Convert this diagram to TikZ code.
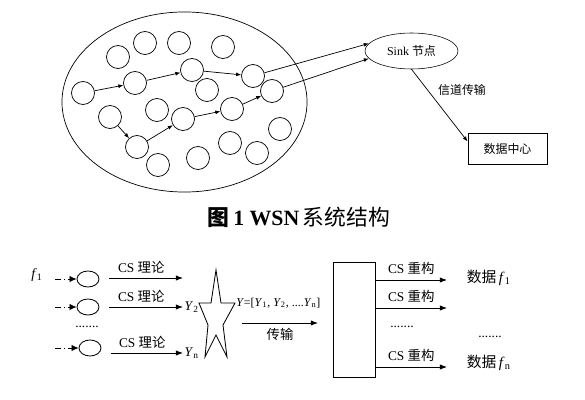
\documentclass[tikz,border=0pt]{standalone}
\usepackage{fontspec}
\setmainfont{Liberation Serif}
\newfontfamily\cjk{Noto Sans CJK SC}
\usetikzlibrary{arrows.meta,shapes.geometric}
\newcommand{\tv}[2]{{\rmfamily\textit{#1}\textsubscript{#2}}}
\tikzset{
  mote/.style={draw,circle,minimum size=0.575cm,inner sep=0pt,line width=0.5pt},
  probe/.style={draw,ellipse,minimum width=0.55cm,minimum height=0.4cm,inner sep=0pt,line width=0.6pt},
  hop/.style={-{Latex[length=3.6pt,width=2.8pt]},line width=0.5pt},
  feed/.style={-{Latex[length=5pt,width=3.8pt]},line width=0.6pt},
  lead/.style={-{Latex[length=5pt,width=4.6pt]},line width=0.6pt,
               dash pattern=on 4.2pt off 2.1pt on 1pt off 2.1pt},
  tag/.style={font=\fontsize{9.5}{11}\selectfont},
  small/.style={font=\fontsize{8.5}{10}\selectfont}
}
% one sensing row: name, y of mote, y of arrow, x of mote
\newcommand{\csrow}[4]{%
  \coordinate (s#1) at (55,#2);
  \node[probe] (c#1) at (#4,#2) {};
  \draw[lead] (s#1) -- (c#1);
  \coordinate (e#1) at (183,#3);
  \draw[feed,shorten <=0.25cm] (c#1.east |- e#1) -- (e#1)
        node[midway,above,tag] (cs#1) {CS {\cjk 理论}};
}
\begin{document}
\begin{tikzpicture}[x=0.025cm,y=-0.025cm]
  \useasboundingbox (0,0) rectangle (585,400);
  % sensor field
  \node[draw,ellipse,minimum width=6.125cm,minimum height=4.5cm,line width=0.5pt] (field) at (184.5,102) {};
  \foreach \x/\y [count=\i] in {118/57,145/43,179/43,223/47,207/90,157/110,
                                158/165,198/158,230/143,257/153,280/129}
    \node[mote] (m\i) at (\x,\y) {};
  \node[mote] (p1) at (83,93) {};
  \node[mote] (p2) at (135,83) {};
  \node[mote] (p3) at (192,70) {};
  \node[mote] (p4) at (253,76) {};
  \node[mote] (q1) at (110,117) {};
  \node[mote] (q2) at (137,147) {};
  \node[mote] (q3) at (183,119) {};
  \node[mote] (q4) at (232,109) {};
  \node[mote] (q5) at (272,91) {};
  \draw[hop] (p1) -- (p2);
  \draw[hop] (p2) -- (p3);
  \draw[hop] (p3) -- (p4);
  \draw[hop] (q1) -- (q2);
  \draw[hop] (q2) -- (q3);
  \draw[hop] (q3) -- (q4);
  \draw[hop] (q4) -- (q5);
  % sink and data centre
  \node[draw,ellipse,minimum width=2.325cm,minimum height=0.9cm,inner sep=0pt,small] (sink) at (411.5,51) {Sink {\cjk 节点}};
  \node[draw,minimum width=1.975cm,minimum height=0.775cm,small,line width=0.6pt] (dc) at (507.5,148.5) {\cjk 数据中心};
  \draw[hop] (p4) -- (sink.170);
  \draw[hop] (q5) -- (sink.190);
  \draw[hop] (sink.south) -- (dc.170);
  \node[small] (chan) at (462,90) {\cjk 信道传输};
  % caption
  \node[font=\fontsize{15.5}{18}\selectfont] (cap) at (299,217)
        {{\cjk\bfseries 图}\,\textbf{1~WSN}\,{\cjk 系统结构}};
  % compressed sensing chain
  \node[font=\fontsize{10}{12}\selectfont] (f1) at (37,275) {\tv{f}{1}};
  \csrow{1}{279}{278}{88}
  \csrow{2}{307}{307}{88}
  \csrow{3}{348}{353}{90}
  \node[tag] (dotl) at (87,327) {.......};
  \node[anchor=west,inner sep=1pt,tag] (y2) at (e2) {\tv{Y}{2}};
  \node[anchor=west,inner sep=1pt,tag] (yn) at (e3) {\tv{Y}{n}};
  \draw[line width=0.6pt] (216,270) -- (211,303) -- (199,303) -- (208,325) -- (205,357)
        -- (216,335) -- (227,357) -- (223,325) -- (235,303) -- (221,303) -- cycle;
  \node[anchor=west,inner sep=0pt,font=\fontsize{8.5}{10}\selectfont] (vec) at (236,303)
        {\textit{Y}=[\tv{Y}{1}, \tv{Y}{2}, ....\tv{Y}{n}]};
  \coordinate (t0) at (242,323);
  \coordinate (t1) at (318,323);
  \draw[feed] (t0) -- (t1) node[midway,below,tag] (tx) {\cjk 传输};
  \node[draw,minimum width=1.05cm,minimum height=2.875cm,line width=0.6pt] (rec) at (354,319.5) {};
  \coordinate (r1) at (447,280);
  \coordinate (r2) at (447,308);
  \coordinate (r3) at (447,367);
  \draw[feed] (rec.east |- r1) -- (r1) node[midway,above,tag] (cr1) {CS {\cjk 重构}};
  \draw[feed] (rec.east |- r2) -- (r2) node[midway,above,tag] (cr2) {CS {\cjk 重构}};
  \draw[feed] (rec.east |- r3) -- (r3) node[midway,above,tag] (cr3) {CS {\cjk 重构}};
  \node[tag] (dotm) at (402,327) {.......};
  \node[anchor=west,font=\fontsize{10.5}{12}\selectfont] (d1) at (462,278) {{\cjk 数据}\,\tv{f}{1}};
  \node[tag] (dotr) at (490,337) {.......};
  \node[anchor=west,font=\fontsize{10.5}{12}\selectfont] (dn) at (462,363) {{\cjk 数据}\,\tv{f}{n}};
\end{tikzpicture}
\end{document}
